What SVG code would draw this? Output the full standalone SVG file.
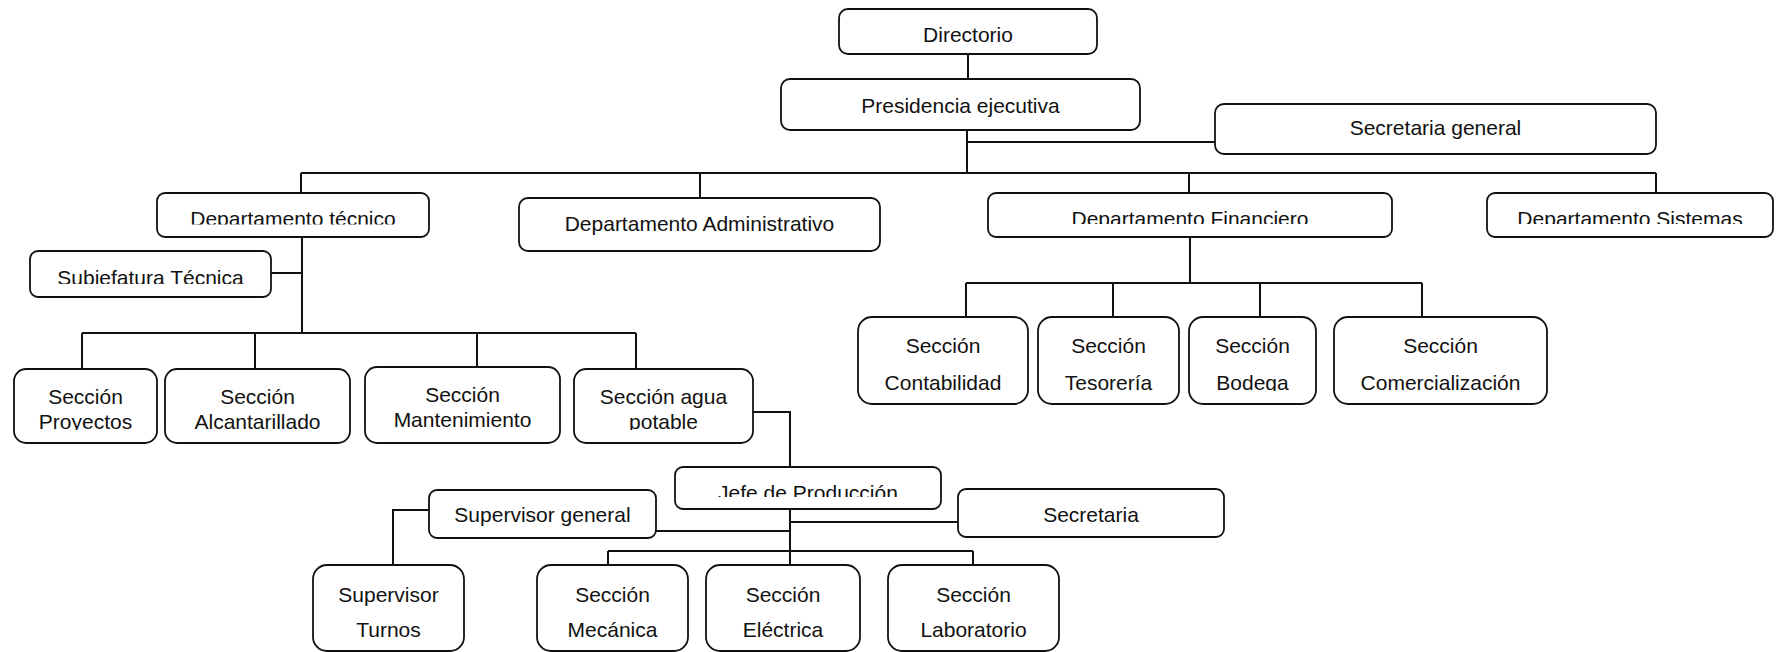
<svg xmlns="http://www.w3.org/2000/svg" width="1776" height="652" viewBox="0 0 1776 652">
<style>
.box{fill:#fff;stroke:#111;stroke-width:1.8}
.t{font-family:"Liberation Sans",Arial,sans-serif;font-size:21px;fill:#111;text-anchor:middle}
.c{fill:none;stroke:#111;stroke-width:2}
</style>
<defs>
<clipPath id="cpTec" clipPathUnits="userSpaceOnUse"><rect x="157" y="193" width="272" height="31.5"/></clipPath>
<clipPath id="cpFin" clipPathUnits="userSpaceOnUse"><rect x="988" y="193" width="404" height="31"/></clipPath>
<clipPath id="cpSis" clipPathUnits="userSpaceOnUse"><rect x="1487" y="193" width="286" height="31"/></clipPath>
<clipPath id="cpSub" clipPathUnits="userSpaceOnUse"><rect x="30" y="251" width="241" height="33"/></clipPath>
<clipPath id="cpSec" clipPathUnits="userSpaceOnUse"><rect x="0" y="369" width="760" height="61"/></clipPath>
<clipPath id="cpBod" clipPathUnits="userSpaceOnUse"><rect x="1189" y="317" width="127" height="74"/></clipPath>
<clipPath id="cpJefe" clipPathUnits="userSpaceOnUse"><rect x="675" y="467" width="266" height="30"/></clipPath>
</defs>

<g id="connectors">
<path class="c" d="M968 54V79"/>
<path class="c" d="M967 130V173"/>
<path class="c" d="M967 142H1215"/>
<path class="c" d="M301 173H1656"/>
<path class="c" d="M301 173V193M700 173V198M1189 173V193M1656 173V193"/>
<path class="c" d="M302 237V333M271 273H302"/>
<path class="c" d="M82 333H636M82 333V369M255 333V369M477 333V367M636 333V369"/>
<path class="c" d="M1190 237V283M966 283H1422M966 283V317M1113 283V317M1260 283V317M1422 283V317"/>
<path class="c" d="M753 412H790V467"/>
<path class="c" d="M790 509V565M790 522H958M656 531H790"/>
<path class="c" d="M429 510H393V565"/>
<path class="c" d="M608 551H973M608 551V565M973 551V565"/>
</g>

<g id="directorio"><rect class="box" x="839" y="9" width="258" height="45" rx="9"/><text class="t" x="968" y="42">Directorio</text></g>
<g id="presidencia"><rect class="box" x="781" y="79" width="359" height="51" rx="9"/><text class="t" x="960.5" y="113">Presidencia ejecutiva</text></g>
<g id="secretaria-general"><rect class="box" x="1215" y="104" width="441" height="50" rx="9"/><text class="t" x="1435.5" y="135">Secretaria general</text></g>

<g id="dep-tecnico"><rect class="box" x="157" y="193" width="272" height="44" rx="8"/><text class="t" x="293" y="225.5" clip-path="url(#cpTec)">Departamento técnico</text></g>
<g id="dep-administrativo"><rect class="box" x="519" y="198" width="361" height="53" rx="9"/><text class="t" x="699.5" y="231">Departamento Administrativo</text></g>
<g id="dep-financiero"><rect class="box" x="988" y="193" width="404" height="44" rx="8"/><text class="t" x="1190" y="226" clip-path="url(#cpFin)">Departamento Financiero</text></g>
<g id="dep-sistemas"><rect class="box" x="1487" y="193" width="286" height="44" rx="8"/><text class="t" x="1630" y="226" clip-path="url(#cpSis)">Departamento Sistemas</text></g>

<g id="subjefatura"><rect class="box" x="30" y="251" width="241" height="46" rx="8"/><text class="t" x="150.5" y="285" clip-path="url(#cpSub)">Subjefatura Técnica</text></g>

<g id="sec-proyectos"><rect class="box" x="14" y="369" width="143" height="74" rx="12"/><text class="t" x="85.5" y="404">Sección</text><text class="t" x="85.5" y="429" clip-path="url(#cpSec)">Proyectos</text></g>
<g id="sec-alcantarillado"><rect class="box" x="165" y="369" width="185" height="74" rx="12"/><text class="t" x="257.5" y="404">Sección</text><text class="t" x="257.5" y="429">Alcantarillado</text></g>
<g id="sec-mantenimiento"><rect class="box" x="365" y="367" width="195" height="76" rx="12"/><text class="t" x="462.5" y="402">Sección</text><text class="t" x="462.5" y="427">Mantenimiento</text></g>
<g id="sec-agua"><rect class="box" x="574" y="369" width="179" height="74" rx="12"/><text class="t" x="663.5" y="404">Sección agua</text><text class="t" x="663.5" y="429" clip-path="url(#cpSec)">potable</text></g>

<g id="sec-contabilidad"><rect class="box" x="858" y="317" width="170" height="87" rx="14"/><text class="t" x="943" y="353">Sección</text><text class="t" x="943" y="390">Contabilidad</text></g>
<g id="sec-tesoreria"><rect class="box" x="1038" y="317" width="141" height="87" rx="14"/><text class="t" x="1108.5" y="353">Sección</text><text class="t" x="1108.5" y="390">Tesorería</text></g>
<g id="sec-bodega"><rect class="box" x="1189" y="317" width="127" height="87" rx="14"/><text class="t" x="1252.5" y="353">Sección</text><text class="t" x="1252.5" y="390" clip-path="url(#cpBod)">Bodega</text></g>
<g id="sec-comercializacion"><rect class="box" x="1334" y="317" width="213" height="87" rx="14"/><text class="t" x="1440.5" y="353">Sección</text><text class="t" x="1440.5" y="390">Comercialización</text></g>

<g id="jefe-produccion"><rect class="box" x="675" y="467" width="266" height="42" rx="8"/><text class="t" x="808" y="500" clip-path="url(#cpJefe)">Jefe de Producción</text></g>
<g id="supervisor-general"><rect class="box" x="429" y="490" width="227" height="48" rx="8"/><text class="t" x="542.5" y="522">Supervisor general</text></g>
<g id="secretaria"><rect class="box" x="958" y="489" width="266" height="48" rx="8"/><text class="t" x="1091" y="522">Secretaria</text></g>

<g id="supervisor-turnos"><rect class="box" x="313" y="565" width="151" height="86" rx="14"/><text class="t" x="388.5" y="602">Supervisor</text><text class="t" x="388.5" y="637">Turnos</text></g>
<g id="sec-mecanica"><rect class="box" x="537" y="565" width="151" height="86" rx="14"/><text class="t" x="612.5" y="602">Sección</text><text class="t" x="612.5" y="637">Mecánica</text></g>
<g id="sec-electrica"><rect class="box" x="706" y="565" width="154" height="86" rx="14"/><text class="t" x="783" y="602">Sección</text><text class="t" x="783" y="637">Eléctrica</text></g>
<g id="sec-laboratorio"><rect class="box" x="888" y="565" width="171" height="86" rx="14"/><text class="t" x="973.5" y="602">Sección</text><text class="t" x="973.5" y="637">Laboratorio</text></g>
</svg>
